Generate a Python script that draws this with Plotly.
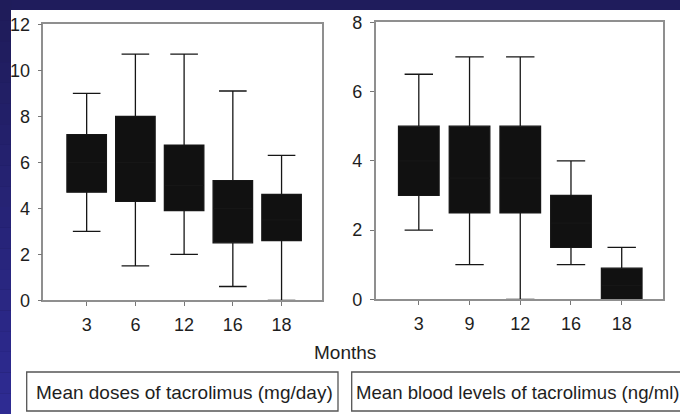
import plotly.graph_objects as go

W, H = 680, 414

# ---- data ----
months_dose = ["3", "6", "12", "16", "18"]
dose_q1 = [4.7, 4.3, 3.9, 2.5, 2.6]
dose_q3 = [7.2, 8.0, 6.75, 5.2, 4.6]
dose_low = [3.0, 1.5, 2.0, 0.6, 0.0]
dose_high = [9.0, 10.7, 10.7, 9.1, 6.3]
dose_median = [6.0, 6.0, 5.0, 4.0, 3.5]

months_level = ["3", "9", "12", "16", "18"]
level_q1 = [3.0, 2.5, 2.5, 1.5, 0.0]
level_q3 = [5.0, 5.0, 5.0, 3.0, 0.9]
level_low = [2.0, 1.0, 0.0, 1.0, 0.0]
level_high = [6.5, 7.0, 7.0, 4.0, 1.5]
level_median = [4.0, 3.5, 3.5, 2.2, 0.4]

y1_ticks = [0, 2, 4, 6, 8, 10, 12]
y2_ticks = [0, 2, 4, 6, 8]

xlabel = "Months"
label_dose = "Mean doses of tacrolimus (mg/day)"
label_level = "Mean blood levels of tacrolimus (ng/ml)"

FONT = "Liberation Sans, Arial, Helvetica, sans-serif"
TXT = "#1e1e1e"


def px(x):
    return x / W


def py(y):
    return 1 - y / H


fig = go.Figure()

box_style = dict(fillcolor="#111111", line=dict(color="#161616", width=1.3),
                 whiskerwidth=0.7, boxpoints=False, showlegend=False, hoverinfo="skip")

fig.add_trace(go.Box(x=months_dose, q1=dose_q1, q3=dose_q3, median=dose_median,
                     lowerfence=dose_low, upperfence=dose_high, width=0.81,
                     xaxis="x", yaxis="y", **box_style))
fig.add_trace(go.Box(x=months_level, q1=level_q1, q3=level_q3, median=level_median,
                     lowerfence=level_low, upperfence=level_high, width=0.8,
                     xaxis="x2", yaxis="y2", **box_style))

axis_common = dict(showline=True, mirror=True, linecolor="#8f8f8f", linewidth=1.5,
                   showgrid=False, zeroline=False, ticks="outside", ticklen=4,
                   tickcolor="#777777", tickwidth=1, automargin=False,
                   tickfont=dict(family=FONT, size=18, color=TXT))

# background gradient strip on the left edge
shapes = []
n = 20
for i in range(n):
    t = i / (n - 1)
    r = int(0x1f + (0x2e - 0x1f) * t)
    g = int(0x1c + (0x2b - 0x1c) * t)
    b = int(0x5a + (0x92 - 0x5a) * t)
    shapes.append(dict(type="rect", xref="paper", yref="paper",
                       x0=0, x1=px(11.5), y0=1 - (i + 1) / n, y1=1 - i / n,
                       fillcolor=f"rgb({r},{g},{b})", line=dict(width=0), layer="below"))
# white panel
shapes.append(dict(type="rect", xref="paper", yref="paper",
                   x0=px(11), x1=1.01, y0=-0.01, y1=py(10),
                   fillcolor="white", line=dict(width=0), layer="below"))
# label boxes
shapes.append(dict(type="rect", xref="paper", yref="paper",
                   x0=px(26.7), x1=px(338), y0=py(411), y1=py(372),
                   fillcolor="rgba(0,0,0,0)", line=dict(color="#555555", width=1.3)))
shapes.append(dict(type="rect", xref="paper", yref="paper",
                   x0=px(351.7), x1=px(700), y0=py(411), y1=py(372),
                   fillcolor="rgba(0,0,0,0)", line=dict(color="#555555", width=1.3)))

annotations = [
    dict(text=xlabel, xref="paper", yref="paper", x=px(345), y=py(352),
         xanchor="center", yanchor="middle", showarrow=False,
         font=dict(family=FONT, size=19, color=TXT)),
    dict(text=label_dose, xref="paper", yref="paper", x=px(34), y=py(392),
         xanchor="left", yanchor="middle", showarrow=False,
         font=dict(family=FONT, size=19, color=TXT)),
    dict(text=label_level, xref="paper", yref="paper", x=px(354), y=py(392),
         xanchor="left", yanchor="middle", showarrow=False,
         font=dict(family=FONT, size=18.6, color=TXT)),
]

fig.update_layout(
    width=W, height=H,
    margin=dict(l=0, r=0, t=0, b=0, autoexpand=False),
    paper_bgcolor="#1f1c5c",
    plot_bgcolor="white",
    shapes=shapes,
    annotations=annotations,
    xaxis=dict(domain=[px(43.3), px(322)], type="category", range=[-0.89, 4.83],
               anchor="y", ticklabelstandoff=3, **axis_common),
    yaxis=dict(domain=[py(300.3), py(24.3)], range=[0, 12], tickvals=y1_ticks,
               anchor="x", ticklabelstandoff=4, **axis_common),
    xaxis2=dict(domain=[px(375.7), px(663.3)], type="category", range=[-0.85, 4.82],
                anchor="y2", ticklabelstandoff=3, **axis_common),
    yaxis2=dict(domain=[py(299.3), py(22.3)], range=[0, 8], tickvals=y2_ticks,
                anchor="x2", ticklabelstandoff=4, **axis_common),
)

fig.write_html("out.html")
